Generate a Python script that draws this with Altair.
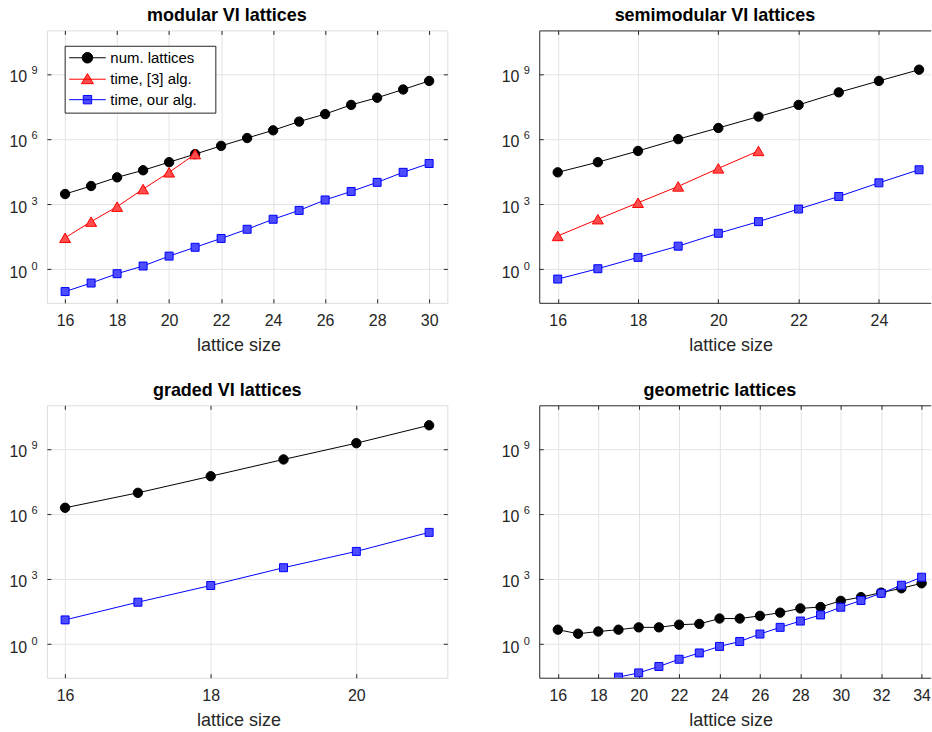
import altair as alt
import pandas as pd

FONT = "Liberation Sans"
DARK = "#262626"
GRID = "#e3e3e3"

# ---------------- data ----------------
SERIES = ["num. lattices", "time, [3] alg.", "time, our alg."]

# modular VI lattices
MOD_SIZE = list(range(16, 31))
MOD_COUNT = [2.9e3, 6.8e3, 1.7e4, 3.6e4, 8.5e4, 2.0e5, 4.8e5, 1.1e6, 2.5e6,
             6.3e6, 1.4e7, 3.7e7, 7.9e7, 1.9e8, 4.7e8]
MOD_OLD_SIZE = list(range(16, 22))
MOD_OLD_TIME = [28, 155, 760, 4.9e3, 2.9e4, 2.0e5]
MOD_OUR_TIME = [0.093, 0.23, 0.62, 1.4, 4.0, 10.2, 26, 69, 200, 510, 1550,
                3800, 1.0e4, 2.9e4, 7.4e4]

# semimodular VI lattices
SEMI_SIZE = list(range(16, 26))
SEMI_COUNT = [2.9e4, 8.5e4, 2.8e5, 9.8e5, 3.2e6, 1.07e7, 3.7e7, 1.4e8, 4.7e8, 1.55e9]
SEMI_OLD_SIZE = list(range(16, 22))
SEMI_OLD_TIME = [34, 200, 1150, 6.5e3, 4.4e4, 2.8e5]
SEMI_OUR_TIME = [0.35, 1.05, 3.5, 11.5, 45, 155, 590, 2240, 9.5e3, 3.8e4]

# graded VI lattices
GRAD_SIZE = list(range(16, 22))
GRAD_COUNT = [1.9e6, 9.3e6, 5.4e7, 3.2e8, 1.8e9, 1.2e10]
GRAD_OUR_TIME = [13, 85, 500, 3300, 1.86e4, 1.4e5]

# geometric lattices
GEO_SIZE = list(range(16, 35))
GEO_COUNT = [4.6, 3.0, 3.8, 4.6, 5.9, 5.9, 7.8, 8.5, 15, 15, 20, 28, 44, 51,
             98, 145, 234, 372, 631]
GEO_OUR_SIZE = list(range(19, 35))
GEO_OUR_TIME = [0.030, 0.047, 0.093, 0.20, 0.39, 0.78, 1.32, 2.9, 5.9, 11.5,
                22, 50, 102, 219, 513, 1200]

Y_TICKS = [1, 1e3, 1e6, 1e9]
Y_DOMAIN = [10 ** -1.55, 1e11]

# ---------------- styles ----------------
LINE_COLORS = ["#000000", "#ff0000", "#0000ff"]
FILL_COLORS = ["#000000", "#ff4d4d", "#4d4dff"]
MARKERS = ["circle", "triangle-up", "square"]
MARKER_SIZES = [88, 120, 64]
LEGEND_PATHS = [
    "M-2.62,0L2.62,0M-0.757,0A0.757,0.757,0,1,1,0.757,0A0.757,0.757,0,1,1,-0.757,0Z",
    "M-2.62,0L2.62,0M0,-0.81L0.857,0.64L-0.857,0.64Z",
    "M-2.62,0L2.62,0M-0.6,-0.6L0.6,-0.6L0.6,0.6L-0.6,0.6Z",
]
# trailing blank room inside the legend box (ends with a zero-width space so it is not trimmed)
LEGEND_PAD_TEXT = "\u00a0\u00a0\u00a0\u200a\u200b"


def make_df(parts):
    rows = []
    for name, xs, vs in parts:
        for x, v in zip(xs, vs):
            rows.append({"size": x, "series": name, "value": v})
    return pd.DataFrame(rows)


def panel(df, xdom, xticks, width, title, title_dx, xtitle_x, legend, boxed):
    xs = alt.Scale(domain=xdom, nice=False, zero=False)
    ys = alt.Scale(type="log", domain=Y_DOMAIN, nice=False)
    base = alt.Chart(df)

    def X(axis):
        return alt.X("size:Q", scale=xs, axis=axis)

    def Y(axis):
        return alt.Y("value:Q", scale=ys, axis=axis)

    main_x = alt.Axis(orient="bottom", values=xticks, format="d", grid=True,
                      gridColor=GRID, gridWidth=1, ticks=False,
                      domain=not boxed, domainColor=DARK, domainWidth=1,
                      labelFont=FONT, labelFontSize=16, labelColor=DARK,
                      labelPadding=10.2, title="lattice size", titleFont=FONT,
                      titleFontSize=18, titleFontWeight="normal", titleColor=DARK,
                      titleX=xtitle_x, titleY=47.7, titleBaseline="alphabetic")
    main_y = alt.Axis(orient="left", values=Y_TICKS, grid=True, gridColor=GRID,
                      gridWidth=1, ticks=False, domain=not boxed,
                      domainColor=DARK, domainWidth=1, labelExpr="'10'",
                      labelFont=FONT, labelFontSize=16, labelColor=DARK,
                      labelPadding=20.3, labelOffset=3, title=None)
    sup_y = alt.Axis(orient="left", values=Y_TICKS, grid=False, ticks=False,
                     domain=False,
                     labelExpr="'' + round(log(datum.value) / LN10)",
                     labelFont=FONT, labelFontSize=11, labelColor=DARK,
                     labelAlign="left", labelPadding=16, labelOffset=-3,
                     title=None)
    tick_common = dict(grid=False, labels=False, domain=False, ticks=True,
                       tickSize=4, tickColor=DARK, tickWidth=1, offset=-4,
                       minExtent=0, maxExtent=0, title=None)
    bottom_ticks = alt.Axis(orient="bottom", values=xticks, **tick_common)
    top_ticks = alt.Axis(orient="top", values=xticks, **tick_common)
    left_ticks = alt.Axis(orient="left", values=Y_TICKS, **tick_common)
    right_ticks = alt.Axis(orient="right", values=Y_TICKS, **tick_common)

    layers = []
    present = set(df["series"])
    first = True
    for i, name in enumerate(SERIES):
        if name not in present:
            continue
        sub = base.transform_filter(alt.datum.series == name)
        if first:
            lx, ly = X(main_x), Y(main_y)
            first = False
        else:
            lx, ly = X(None), Y(None)
        layers.append(sub.mark_line(color=LINE_COLORS[i], strokeWidth=1,
                                    clip=True).encode(x=lx, y=ly))
        layers.append(sub.mark_point(shape=MARKERS[i], size=MARKER_SIZES[i],
                                     filled=True, fill=FILL_COLORS[i],
                                     stroke=LINE_COLORS[i], strokeWidth=1,
                                     opacity=1, clip=True)
                      .encode(x=X(None), y=Y(None)))

    ghost = base.mark_point(opacity=0)
    layers.append(ghost.encode(x=X(bottom_ticks), y=Y(sup_y)))
    layers.append(ghost.encode(x=X(top_ticks), y=Y(left_ticks)))
    if boxed:
        layers.append(ghost.encode(x=X(None), y=Y(right_ticks)))
    else:
        top_dom = alt.Axis(orient="top", values=xticks, grid=False, labels=False,
                           ticks=False, domain=True, domainColor=DARK,
                           domainWidth=1, minExtent=0, maxExtent=0, title=None)
        layers.append(ghost.encode(x=X(top_dom), y=Y(None)))

    if legend:
        leg = alt.Legend(orient="none", legendX=17.8, legendY=15.4, title=None,
                         padding=4.5, rowPadding=4.5, symbolSize=196,
                         symbolStrokeWidth=1, symbolOpacity=1,
                         symbolOffset=10.85, labelOffset=15.4, labelFont=FONT,
                         labelFontSize=15, labelColor="black",
                         labelExpr="datum.label + '" + LEGEND_PAD_TEXT + "'",
                         strokeColor=DARK, fillColor="white")
        layers.append(base.mark_point(opacity=0).encode(
            x=X(None), y=Y(None),
            shape=alt.Shape("series:N", scale=alt.Scale(domain=SERIES, range=LEGEND_PATHS), legend=leg),
            fill=alt.Fill("series:N", scale=alt.Scale(domain=SERIES, range=FILL_COLORS), legend=leg),
            stroke=alt.Stroke("series:N", scale=alt.Scale(domain=SERIES, range=LINE_COLORS), legend=leg),
        ))

    ch = alt.layer(*layers).resolve_axis(x="independent", y="independent").properties(
        width=width, height=273,
        title=alt.TitleParams(text=title, font=FONT, fontSize=18, fontWeight="bold",
                              color="black", anchor="middle", frame="group",
                              dx=title_dx, baseline="alphabetic", offset=-8.8),
    )
    if not boxed:
        ch = ch.properties(view=alt.ViewBackground(stroke="transparent"))
    return ch


df_mod = make_df([(SERIES[0], MOD_SIZE, MOD_COUNT),
                  (SERIES[1], MOD_OLD_SIZE, MOD_OLD_TIME),
                  (SERIES[2], MOD_SIZE, MOD_OUR_TIME)])
df_semi = make_df([(SERIES[0], SEMI_SIZE, SEMI_COUNT),
                   (SERIES[1], SEMI_OLD_SIZE, SEMI_OLD_TIME),
                   (SERIES[2], SEMI_SIZE, SEMI_OUR_TIME)])
df_grad = make_df([(SERIES[0], GRAD_SIZE, GRAD_COUNT),
                   (SERIES[2], GRAD_SIZE, GRAD_OUR_TIME)])
df_geo = make_df([(SERIES[0], GEO_SIZE, GEO_COUNT),
                  (SERIES[2], GEO_OUR_SIZE, GEO_OUR_TIME)])

p1 = panel(df_mod, [15.3, 30.7], list(range(16, 31, 2)), 401.3,
           "modular VI lattices", -20.3, 192, True, True)
p2 = panel(df_semi, [15.54, 25.29], list(range(16, 25, 2)), 392.3,
           "semimodular VI lattices", -20.1, 191.8, False, False)
p3 = panel(df_grad, [15.75, 21.25], [16, 18, 20], 401.3,
           "graded VI lattices", -19.9, 192, False, True)
p4 = panel(df_geo, [15.08, 34.45], list(range(16, 35, 2)), 392.3,
           "geometric lattices", -15.1, 191.8, False, False)

chart = alt.concat(p1, p2, p3, p4, columns=2,
                   spacing={"row": 102.7, "column": 91.4},
                   bounds="flush").properties(
    padding={"left": 8, "top": 4.7, "right": 0, "bottom": 0}
).configure_view(stroke=DARK, strokeWidth=1).configure(font=FONT)

chart.save("out.html", embed_options={"renderer": "svg", "actions": False})
